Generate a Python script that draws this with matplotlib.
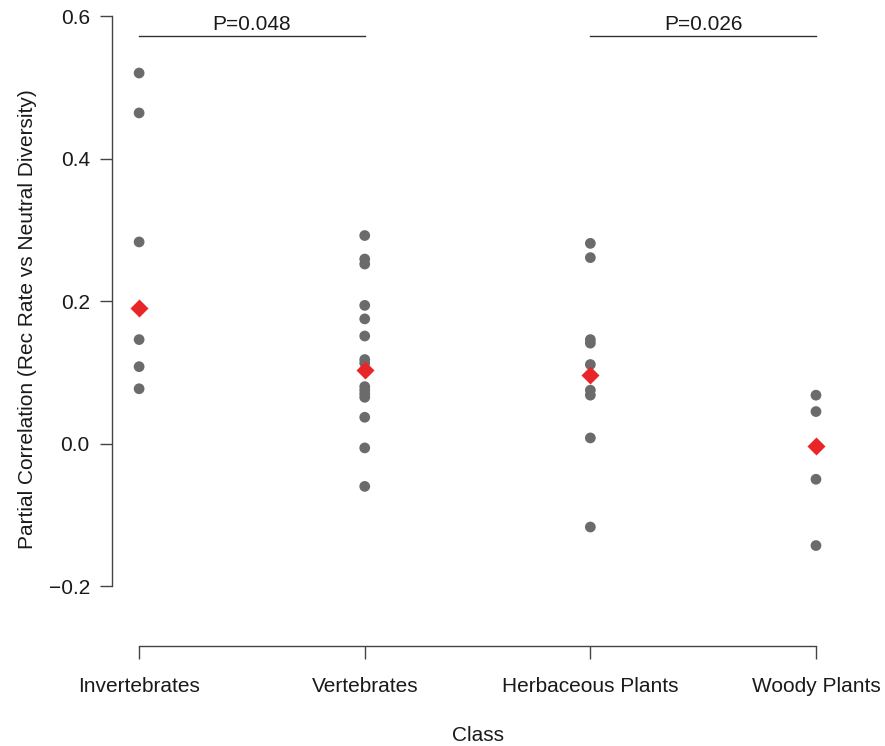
import numpy as np
import matplotlib.pyplot as plt

plt.rcParams['font.family'] = ['Liberation Sans', 'DejaVu Sans']

# data
classes = ['Invertebrates', 'Vertebrates', 'Herbaceous Plants', 'Woody Plants']
invertebrates = [0.520, 0.464, 0.283, 0.146, 0.108, 0.077]
vertebrates = [0.292, 0.259, 0.252, 0.194, 0.175, 0.151, 0.118, 0.113,
               0.080, 0.075, 0.070, 0.065, 0.037, -0.006, -0.060]
herbaceous = [0.281, 0.261, 0.146, 0.141, 0.111, 0.075, 0.068, 0.008, -0.117]
woody = [0.068, 0.045, -0.050, -0.143]
estimates = [0.190, 0.103, 0.096, -0.003]

# significance brackets: (from, to, label)
brackets = [(1, 2, 'P=0.048'), (3, 4, 'P=0.026')]
bracket_y = 0.572

groups = [invertebrates, vertebrates, herbaceous, woody]

fig = plt.figure(figsize=(8.85, 7.46), dpi=100)
ax = fig.add_axes([0.1266, 0.134, 0.826, 0.877])

for i, vals in enumerate(groups):
    ax.scatter(np.full(len(vals), i + 1), vals, s=60, color='#6b6b6b',
               edgecolors='none', zorder=2)
ax.plot(np.arange(1, 5), estimates, 'D', color='#e8262a', ms=9.5,
        mec='none', zorder=3)

for x0, x1, lab in brackets:
    ax.plot([x0, x1], [bracket_y, bracket_y], color='#333333', lw=1)
    ax.text((x0 + x1) / 2, bracket_y + 0.003, lab, ha='center', va='bottom',
            fontsize=15, color='#1a1a1a')

ax.set_xlim(0.88, 4.12)
ax.set_ylim(-0.284, 0.634)

ax.spines['top'].set_visible(False)
ax.spines['right'].set_visible(False)
ax.spines['left'].set_bounds(-0.2, 0.6)
ax.spines['bottom'].set_bounds(1, 4)
for s in ['left', 'bottom']:
    ax.spines[s].set_color('#444444')
    ax.spines[s].set_linewidth(1)

ax.set_xticks(range(1, 5))
ax.set_xticklabels(classes)
ax.set_yticks([-0.2, 0.0, 0.2, 0.4, 0.6])
ax.set_yticklabels(['\u22120.2', '0.0', '0.2', '0.4', '0.6'])
ax.tick_params(axis='both', length=9, width=1, color='#444444',
               labelsize=15, labelcolor='#1a1a1a')
ax.tick_params(axis='x', pad=13)
ax.tick_params(axis='y', pad=7)

ax.set_xlabel('Class', fontsize=15, color='#1a1a1a', labelpad=22)
ax.set_ylabel('Partial Correlation (Rec Rate vs Neutral Diversity)',
              fontsize=15, color='#1a1a1a', labelpad=8)

fig.savefig('out.png', dpi=100)
